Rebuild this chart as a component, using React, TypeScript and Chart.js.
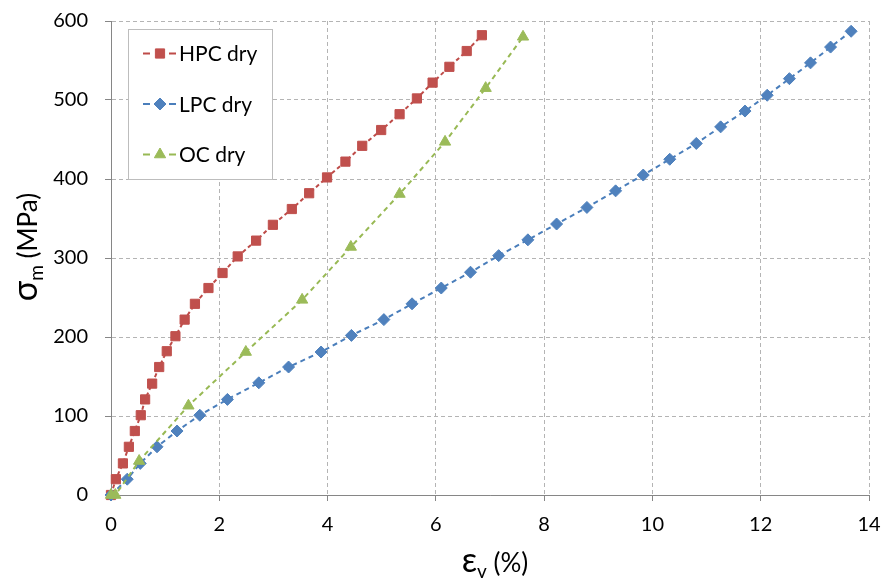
import React, { useEffect, useRef } from "react";
import { Chart, registerables } from "chart.js";

Chart.register(...registerables);

// ---- data ----
const hpcStrain = [0, 0.09, 0.22, 0.33, 0.44, 0.55, 0.63, 0.76, 0.89, 1.03, 1.19, 1.36, 1.55, 1.8, 2.06, 2.34, 2.68, 2.99, 3.34, 3.66, 3.99, 4.33, 4.64, 4.99, 5.33, 5.65, 5.94, 6.25, 6.57, 6.85];
const hpcStress = [0, 20, 40, 61, 81, 101, 121, 141, 162, 182, 201, 222, 242, 262, 281, 302, 322, 342, 362, 382, 402, 422, 442, 462, 482, 502, 522, 542, 562, 582];

const lpcStrain = [0, 0.3, 0.54, 0.85, 1.22, 1.64, 2.15, 2.73, 3.28, 3.88, 4.44, 5.04, 5.56, 6.1, 6.64, 7.16, 7.7, 8.23, 8.79, 9.32, 9.83, 10.32, 10.81, 11.26, 11.71, 12.12, 12.53, 12.92, 13.29, 13.67];
const lpcStress = [0, 20, 40, 61, 81, 101, 121, 142, 162, 181, 202, 222, 242, 262, 282, 303, 323, 343, 364, 385, 405, 425, 445, 466, 486, 506, 527, 547, 567, 587];

const ocStrain = [0, 0.08, 0.52, 1.43, 2.49, 3.53, 4.43, 5.33, 6.17, 6.92, 7.61];
const ocStress = [0, 0, 43, 113, 181, 247, 314, 381, 447, 515, 580];

const seriesNames = ["HPC dry", "LPC dry", "OC dry"];
const xTitleMain = "ε";
const xTitleSub = "v";
const xTitleRest = " (%)";
const yTitleMain = "σ";
const yTitleSub = "m";
const yTitleRest = " (MPa)";

const FONT = "Lato, 'Open Sans', sans-serif";

const toPts = (xs: number[], ys: number[]) => xs.map((x, i) => ({ x, y: ys[i] }));

const legendSpec = [
  { name: seriesNames[0], line: "#BE4B48", fill: "#C0504D", style: "rect", r: 6.5 },
  { name: seriesNames[1], line: "#4A7EBB", fill: "#4F81BD", style: "rectRot", r: 6 },
  { name: seriesNames[2], line: "#98B954", fill: "#9BBB59", style: "triangle", r: 6.5 },
];

function drawMarker(ctx: CanvasRenderingContext2D, style: string, x: number, y: number, r: number) {
  ctx.beginPath();
  if (style === "rect") {
    const s = Math.SQRT1_2 * r;
    ctx.rect(x - s, y - s, 2 * s, 2 * s);
  } else if (style === "rectRot") {
    ctx.moveTo(x, y - r);
    ctx.lineTo(x + r, y);
    ctx.lineTo(x, y + r);
    ctx.lineTo(x - r, y);
    ctx.closePath();
  } else {
    const a = (2 * Math.PI) / 3;
    ctx.moveTo(x, y - r);
    ctx.lineTo(x + Math.sin(a) * r, y - Math.cos(a) * r);
    ctx.lineTo(x - Math.sin(a) * r, y - Math.cos(a) * r);
    ctx.closePath();
  }
  ctx.fill();
  ctx.stroke();
}

const decorPlugin = {
  id: "decor",
  afterDraw(chart: any) {
    const ctx: CanvasRenderingContext2D = chart.ctx;
    ctx.save();
    // legend box
    const bx = 128.5, by = 29.5, bw = 144, bh = 150;
    ctx.fillStyle = "#ffffff";
    ctx.fillRect(bx, by, bw, bh);
    ctx.strokeStyle = "#bdbdbd";
    ctx.lineWidth = 1;
    ctx.setLineDash([]);
    ctx.strokeRect(bx, by, bw, bh);
    const rows = [53.5, 104, 154.5];
    legendSpec.forEach((s, i) => {
      const y = rows[i];
      ctx.strokeStyle = s.line;
      ctx.lineWidth = 2;
      ctx.beginPath();
      ctx.moveTo(143, y);
      ctx.lineTo(150, y);
      ctx.moveTo(169, y);
      ctx.lineTo(176, y);
      ctx.stroke();
      ctx.fillStyle = s.fill;
      ctx.strokeStyle = s.fill;
      ctx.lineWidth = 1;
      drawMarker(ctx, s.style, 160, y, s.r);
      ctx.fillStyle = "#000";
      ctx.font = `21px ${FONT}`;
      ctx.textAlign = "left";
      ctx.textBaseline = "middle";
      ctx.fillText(s.name, 179, y + 1);
    });

    const bigF = `34px ${FONT}`;
    const subF = `19px ${FONT}`;
    const regF = `26px ${FONT}`;

    // y title (rotated)
    ctx.save();
    ctx.translate(37, 247);
    ctx.rotate(-Math.PI / 2);
    ctx.font = bigF;
    const w1 = ctx.measureText(yTitleMain).width;
    ctx.font = subF;
    const w2 = ctx.measureText(yTitleSub).width;
    ctx.font = regF;
    const w3 = ctx.measureText(yTitleRest).width;
    const x0 = -(w1 + w2 + w3) / 2;
    ctx.fillStyle = "#000";
    ctx.textAlign = "left";
    ctx.textBaseline = "alphabetic";
    ctx.font = bigF;
    ctx.fillText(yTitleMain, x0, 0);
    ctx.font = subF;
    ctx.fillText(yTitleSub, x0 + w1, 5.5);
    ctx.font = regF;
    ctx.fillText(yTitleRest, x0 + w1 + w2, 0);
    ctx.restore();

    // x title
    ctx.font = bigF;
    const v1 = ctx.measureText(xTitleMain).width;
    ctx.font = subF;
    const v2 = ctx.measureText(xTitleSub).width;
    ctx.font = regF;
    const v3 = ctx.measureText(xTitleRest).width;
    const xs = 495 - (v1 + v2 + v3) / 2;
    const base = 572;
    ctx.fillStyle = "#000";
    ctx.textAlign = "left";
    ctx.textBaseline = "alphabetic";
    ctx.font = bigF;
    ctx.fillText(xTitleMain, xs, base);
    ctx.font = subF;
    ctx.fillText(xTitleSub, xs + v1, base + 5.5);
    ctx.font = regF;
    ctx.fillText(xTitleRest, xs + v1 + v2, base);
    ctx.restore();
  },
};

const fitX = (s: any) => {
  s.height = 83;
  s.paddingLeft = 0;
  s.paddingRight = 0;
  s.paddingTop = 0;
  s.paddingBottom = 0;
};
const fitY = (s: any) => {
  s.width = 111;
  s.paddingLeft = 0;
  s.paddingRight = 0;
  s.paddingTop = 0;
  s.paddingBottom = 0;
};

export default function App() {
  const ref = useRef<HTMLCanvasElement | null>(null);
  useEffect(() => {
    if (!ref.current) return;
    const mk = (i: number, xs: number[], ys: number[], dash: number[], order: number) => ({
      label: seriesNames[i],
      data: toPts(xs, ys),
      showLine: true,
      borderColor: legendSpec[i].line,
      borderWidth: 2,
      borderDash: dash,
      pointStyle: legendSpec[i].style,
      pointRadius: legendSpec[i].r,
      pointBackgroundColor: legendSpec[i].fill,
      pointBorderColor: legendSpec[i].fill,
      pointBorderWidth: 1,
      clip: false,
      order,
    });
    const chart = new Chart(ref.current, {
      type: "scatter",
      data: {
        datasets: [
          mk(0, hpcStrain, hpcStress, [4, 3], 3),
          mk(1, lpcStrain, lpcStress, [5, 4], 2),
          mk(2, ocStrain, ocStress, [5, 4], 1),
        ],
      },
      options: {
        animation: false,
        responsive: false,
        maintainAspectRatio: false,
        layout: { padding: { left: 0, top: 21, right: 14, bottom: 0 } },
        plugins: { legend: { display: false }, tooltip: { enabled: false } },
        scales: {
          x: {
            type: "linear",
            min: 0,
            max: 14,
            afterFit: fitX,
            ticks: { stepSize: 2, font: { family: FONT, size: 20 }, color: "#000", padding: 12 },
            grid: { color: "#b4b4b4", tickColor: "#868686", tickLength: 6, lineWidth: 1 },
            border: { color: "#868686", width: 1, dash: [4, 3] },
          },
          y: {
            type: "linear",
            min: 0,
            max: 600,
            afterFit: fitY,
            ticks: { stepSize: 100, font: { family: FONT, size: 20 }, color: "#000", padding: 17 },
            grid: { color: "#b4b4b4", tickColor: "#868686", tickLength: 6, lineWidth: 1 },
            border: { color: "#868686", width: 1, dash: [4, 3] },
          },
        },
      },
      plugins: [decorPlugin],
    } as any);
    return () => chart.destroy();
  }, []);
  return (
    <div style={{ position: "fixed", left: 0, top: 0, width: 883, height: 578, background: "#fff" }}>
      <canvas ref={ref} width={883} height={578} style={{ width: 883, height: 578, display: "block" }} />
    </div>
  );
}
